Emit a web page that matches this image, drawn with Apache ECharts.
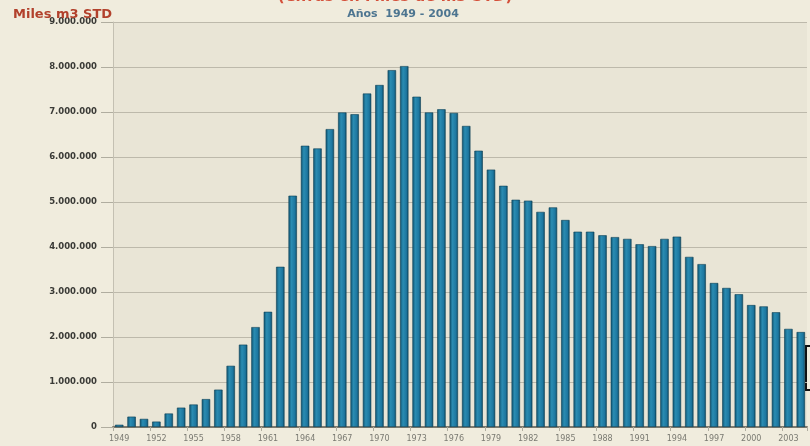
<!DOCTYPE html>
<html>
<head>
<meta charset="utf-8">
<script src="https://cdn.jsdelivr.net/npm/echarts@6/dist/echarts.min.js"></script>
<style>
  html, body { margin: 0; padding: 0; background: #efebdc; }
  #chart { width: 810px; height: 446px; }
</style>
</head>
<body>
<div id="chart"></div>
<script>
var years = [
  "1949", "1950", "1951", "1952", "1953", "1954", "1955", "1956", "1957", "1958",
  "1959", "1960", "1961", "1962", "1963", "1964", "1965", "1966", "1967", "1968",
  "1969", "1970", "1971", "1972", "1973", "1974", "1975", "1976", "1977", "1978",
  "1979", "1980", "1981", "1982", "1983", "1984", "1985", "1986", "1987", "1988",
  "1989", "1990", "1991", "1992", "1993", "1994", "1995", "1996", "1997", "1998",
  "1999", "2000", "2001", "2002", "2003", "2004"
];
var produccion = [
  50000, 230000, 180000, 120000, 300000, 430000, 500000, 620000, 830000, 1360000,
  1830000, 2220000, 2560000, 3560000, 5140000, 6250000, 6190000, 6620000, 6990000, 6950000,
  7410000, 7600000, 7930000, 8020000, 7340000, 6990000, 7060000, 6980000, 6690000, 6140000,
  5720000, 5360000, 5050000, 5030000, 4780000, 4880000, 4600000, 4340000, 4340000, 4260000,
  4220000, 4180000, 4060000, 4020000, 4180000, 4230000, 3780000, 3620000, 3200000, 3090000,
  2950000, 2710000, 2680000, 2550000, 2180000, 2110000
];
var yMax = 9000000;
var yStep = 1000000;

function puntos(v) {
  return String(v).replace(/\B(?=(\d{3})+(?!\d))/g, ".");
}

var chart = echarts.init(document.getElementById("chart"));
var option = {
  backgroundColor: "#f0ecdd",
  animation: false,
  title: [
    {
      text: "(Cifras en Miles de m3 STD)",
      left: 390,
      textAlign: "center",
      top: -15,
      textStyle: { color: "#d4503a", fontSize: 15, fontWeight: "bold", fontFamily: "DejaVu Sans" },
    },
    {
      text: "Años  1949 - 2004",
      left: 398,
      textAlign: "center",
      top: 4,
      textStyle: { color: "#4d7590", fontSize: 11, fontWeight: "bold", fontFamily: "DejaVu Sans" },
    },
    {
      text: "Miles m3 STD",
      left: 8,
      top: 3,
      textStyle: { color: "#b2412c", fontSize: 13, fontWeight: "bold", fontFamily: "DejaVu Sans" },
    },
  ],
  grid: {
    left: 113,
    right: 3,
    top: 22,
    bottom: 19,
    show: true,
    backgroundColor: "#e9e5d6",
    borderWidth: 0,
  },
  xAxis: {
    type: "category",
    data: years,
    axisLine: { lineStyle: { color: "#7d7a6e", width: 2 } },
    axisTick: { show: true, length: 4, lineStyle: { color: "#b0ad9f" } },
    axisLabel: {
      interval: 2,
      color: "#7a7a72",
      fontSize: 8,
      margin: 8,
      fontFamily: "DejaVu Sans",
    },
  },
  yAxis: {
    type: "value",
    min: 0,
    max: yMax,
    interval: yStep,
    axisLine: { show: true, lineStyle: { color: "#c4c0b2" } },
    axisTick: { show: true, length: 12, lineStyle: { color: "#b0ad9f" } },
    axisLabel: {
      color: "#3a3a36",
      fontSize: 8.5,
      fontWeight: "bold",
      margin: 16,
      fontFamily: "DejaVu Sans",
      formatter: function (v) { return puntos(v); },
    },
    splitLine: { lineStyle: { color: "#bdb9ab" } },
  },
  series: [
    {
      type: "bar",
      data: produccion,
      barWidth: "68%",
      itemStyle: {
        color: new echarts.graphic.LinearGradient(0, 0, 1, 0, [
          { offset: 0, color: "#0f5370" },
          { offset: 0.35, color: "#2a8cb2" },
          { offset: 0.75, color: "#1d77a0" },
          { offset: 1, color: "#0e4a63" },
        ]),
        borderColor: "#0c3f55",
        borderWidth: 0.6,
      },
    },
  ],
  graphic: [
    {
      type: "rect",
      shape: { x: 806, y: 346, width: 10, height: 44 },
      style: { fill: "none", stroke: "#111", lineWidth: 2 },
    },
  ],
};
chart.setOption(option);
</script>
</body>
</html>
